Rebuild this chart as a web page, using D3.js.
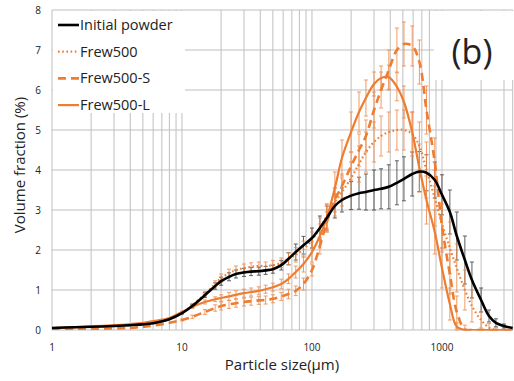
<!DOCTYPE html>
<html lang="en">
<head>
<meta charset="UTF-8">
<title>Particle size distribution</title>
<script src="https://cdn.jsdelivr.net/npm/d3@7"></script>
<style>
    body { margin:0; background:#fff; }
    svg text { font-family:"Open Sans", "Noto Sans", sans-serif; fill:#222; }
    .grid line { stroke:#bfbfbf; stroke-width:1; }
    .tick-label { font-size:10px; }
</style>
</head>
<body>
<div class="app"></div>
<script>
    // particle size bins (µm)
    var sizes = [1, 1.5, 2, 3, 4, 5, 6, 8, 10, 12, 15, 18, 20, 23, 26, 30, 34, 39, 44, 50,
                 58, 66, 75, 86, 100, 115, 130, 150, 170, 200, 230, 260, 300, 340, 390, 450,
                 510, 590, 670, 760, 880, 1000, 1150, 1300, 1500, 1700, 2000, 2300, 2600, 3000, 3500];

    // volume fraction (%) per series
    var initialPowder = [0.05, 0.07, 0.08, 0.10, 0.12, 0.14, 0.17, 0.27, 0.42, 0.60, 0.87, 1.10, 1.22, 1.33, 1.40, 1.44, 1.46, 1.47, 1.49, 1.52,
                         1.62, 1.78, 1.95, 2.12, 2.30, 2.55, 2.80, 3.10, 3.25, 3.36, 3.42, 3.45, 3.50, 3.53, 3.58, 3.68,
                         3.78, 3.90, 3.96, 3.93, 3.75, 3.38, 2.95, 2.35, 1.75, 1.25, 0.75, 0.35, 0.18, 0.10, 0.05];
    var frew500 = [0.05, 0.07, 0.08, 0.10, 0.12, 0.14, 0.17, 0.27, 0.42, 0.62, 0.90, 1.15, 1.30, 1.42, 1.50, 1.55, 1.58, 1.60, 1.60, 1.62,
                   1.68, 1.78, 1.88, 2.02, 2.25, 2.55, 2.85, 3.20, 3.45, 3.80, 4.15, 4.45, 4.70, 4.85, 4.95, 5.00,
                   5.00, 4.90, 4.60, 4.00, 3.30, 2.65, 2.05, 1.55, 1.00, 0.60, 0.25, 0.06, 0.01, 0, 0];
    var frew500S = [0.03, 0.03, 0.03, 0.04, 0.05, 0.08, 0.11, 0.18, 0.25, 0.33, 0.45, 0.55, 0.60, 0.64, 0.67, 0.70, 0.72, 0.74, 0.75, 0.78,
                    0.84, 0.90, 0.98, 1.15, 1.50, 2.10, 2.70, 3.25, 3.60, 4.10, 4.50, 4.85, 5.50, 6.00, 6.50, 7.00,
                    7.15, 7.10, 6.70, 5.50, 4.20, 2.60, 1.40, 0.45, 0.02, 0, 0, 0, 0, 0, 0];
    var frew500L = [0.05, 0.07, 0.09, 0.12, 0.15, 0.18, 0.22, 0.30, 0.45, 0.58, 0.70, 0.77, 0.80, 0.84, 0.88, 0.92, 0.95, 0.98, 1.02, 1.07,
                    1.15, 1.28, 1.45, 1.65, 1.95, 2.35, 2.80, 3.55, 4.30, 4.95, 5.45, 5.80, 6.15, 6.30, 6.32, 6.08,
                    5.70, 4.95, 4.05, 3.25, 2.45, 1.55, 0.65, 0.08, 0, 0, 0, 0, 0, 0, 0];

    // standard deviations (error bars)
    var sdInitial = [0, 0, 0, 0, 0, 0, 0, 0, 0.02, 0.04, 0.06, 0.08, 0.10, 0.10, 0.10, 0.10, 0.10, 0.10, 0.10, 0.10,
                     0.12, 0.15, 0.20, 0.22, 0.25, 0.30, 0.30, 0.30, 0.30, 0.35, 0.40, 0.45, 0.50, 0.50, 0.55, 0.55,
                     0.55, 0.55, 0.50, 0.45, 0.45, 0.50, 0.55, 0.60, 0.60, 0.45, 0.30, 0.15, 0.10, 0.05, 0];
    var sdFrew500 = [0, 0, 0, 0, 0, 0, 0, 0, 0.02, 0.04, 0.06, 0.08, 0.10, 0.10, 0.10, 0.10, 0.10, 0.10, 0.10, 0.12,
                     0.12, 0.15, 0.18, 0.20, 0.20, 0.25, 0.30, 0.35, 0.35, 0.40, 0.45, 0.50, 0.50, 0.50, 0.50, 0.50,
                     0.50, 0.55, 0.60, 0.70, 0.70, 0.70, 0.65, 0.60, 0.50, 0.40, 0.20, 0.10, 0.05, 0, 0];
    var sdFrew500S = [0, 0, 0, 0, 0, 0, 0, 0, 0.02, 0.04, 0.06, 0.08, 0.10, 0.10, 0.10, 0.10, 0.10, 0.10, 0.10, 0.10,
                      0.10, 0.12, 0.12, 0.15, 0.15, 0.20, 0.25, 0.30, 0.30, 0.35, 0.40, 0.40, 0.45, 0.45, 0.50, 0.55,
                      0.55, 0.50, 0.55, 0.60, 0.60, 0.55, 0.50, 0.40, 0.10, 0, 0, 0, 0, 0, 0];
    var sdFrew500L = [0, 0, 0, 0, 0, 0, 0, 0, 0.02, 0.04, 0.05, 0.06, 0.08, 0.10, 0.10, 0.10, 0.10, 0.10, 0.10, 0.10,
                      0.12, 0.12, 0.15, 0.20, 0.25, 0.30, 0.35, 0.40, 0.45, 0.50, 0.50, 0.45, 0.30, 0.30, 0.30, 0.35,
                      0.40, 0.50, 0.60, 0.60, 0.55, 0.50, 0.40, 0.10, 0, 0, 0, 0, 0, 0, 0];

    var seriesNames = ['Initial powder', 'Frew500', 'Frew500-S', 'Frew500-L'];
    var yTicks = [0, 1, 2, 3, 4, 5, 6, 7, 8];
    var xLabelTicks = [1, 10, 100, 1000];

    var width = 514, height = 381,
        margin = {top:10, left:52},
        w = 460.7, h = 320;

    var svg = d3.select('.app').append('svg')
        .attr('width', width)
        .attr('height', height);

    svg.append('clipPath').attr('id', 'plot-clip')
        .append('rect').attr('x', -5).attr('y', -5).attr('width', w + 10).attr('height', h + 5.5);

    var g = svg.append('g').attr('transform', 'translate(' + margin.left + ',' + margin.top + ')');

    var x = d3.scaleLog().domain([1, 3500]).range([0, w]);
    var y = d3.scaleLinear().domain([0, 8]).range([h, 0]);

    // grid
    var grid = g.append('g').attr('class', 'grid');
    grid.selectAll('.vg').data(x.ticks()).enter().append('line')
        .attr('x1', function(d){ return x(d); }).attr('x2', function(d){ return x(d); })
        .attr('y1', 0).attr('y2', h);
    grid.append('line').attr('x1', w).attr('x2', w).attr('y1', 0).attr('y2', h);
    grid.selectAll('.hg').data(yTicks).enter().append('line')
        .attr('x1', 0).attr('x2', w)
        .attr('y1', function(d){ return y(d); }).attr('y2', function(d){ return y(d); });

    // white boxes of legend and panel label
    g.append('rect').attr('x', 1).attr('y', 1).attr('width', 132).attr('height', 102).attr('fill', '#fff');
    g.append('rect').attr('x', 382).attr('y', 1).attr('width', 80).attr('height', 69).attr('fill', '#fff');

    // axis labels
    g.selectAll('.ylab').data(yTicks).enter().append('text')
        .attr('class', 'tick-label')
        .attr('x', -11).attr('y', function(d){ return y(d); })
        .attr('dy', '0.35em').attr('text-anchor', 'end')
        .text(function(d){ return d; });
    g.selectAll('.xlab').data(xLabelTicks).enter().append('text')
        .attr('class', 'tick-label')
        .attr('x', function(d){ return x(d); }).attr('y', h + 21)
        .attr('text-anchor', 'middle')
        .text(function(d){ return d; });

    svg.append('text').attr('x', 282).attr('y', 370)
        .attr('text-anchor', 'middle').style('font-size', '15px')
        .text('Particle size(μm)');
    svg.append('text').attr('transform', 'translate(25,165) rotate(-90)')
        .attr('text-anchor', 'middle').style('font-size', '15px')
        .text('Volume fraction (%)');

    var orange = '#ED7D31';
    var series = [
        {name:seriesNames[0], values:initialPowder, sd:sdInitial, color:'#000', bar:'#444', width:2.6, dash:null},
        {name:seriesNames[1], values:frew500, sd:sdFrew500, color:orange, bar:'#F08A4B', width:2.2, dash:'1.6,2.6'},
        {name:seriesNames[2], values:frew500S, sd:sdFrew500S, color:orange, bar:'#F08A4B', width:2.6, dash:'8,5'},
        {name:seriesNames[3], values:frew500L, sd:sdFrew500L, color:orange, bar:'#F08A4B', width:2.2, dash:null}
    ];

    // error bars
    series.forEach(function(s){
        var pts = sizes.map(function(d, i){ return {x:d, v:s.values[i], e:s.sd[i]}; })
            .filter(function(p){ return p.e > 0; });
        var eb = g.append('g').attr('stroke', s.bar).attr('stroke-width', 1).attr('opacity', 0.85);
        eb.selectAll('line.v').data(pts).enter().append('line')
            .attr('x1', function(p){ return x(p.x); }).attr('x2', function(p){ return x(p.x); })
            .attr('y1', function(p){ return y(p.v + p.e); }).attr('y2', function(p){ return y(Math.max(0, p.v - p.e)); });
        eb.selectAll('line.t').data(pts).enter().append('line')
            .attr('x1', function(p){ return x(p.x) - 2; }).attr('x2', function(p){ return x(p.x) + 2; })
            .attr('y1', function(p){ return y(p.v + p.e); }).attr('y2', function(p){ return y(p.v + p.e); });
        eb.selectAll('line.b').data(pts).enter().append('line')
            .attr('x1', function(p){ return x(p.x) - 2; }).attr('x2', function(p){ return x(p.x) + 2; })
            .attr('y1', function(p){ return y(Math.max(0, p.v - p.e)); }).attr('y2', function(p){ return y(Math.max(0, p.v - p.e)); });
    });

    // smoothed curves (like the spreadsheet's smoothed lines)
    var line = d3.line()
        .x(function(d){ return x(d[0]); })
        .y(function(d){ return y(d[1]); })
        .curve(d3.curveCatmullRom.alpha(0.5));

    var curves = g.append('g').attr('clip-path', 'url(#plot-clip)');
    series.slice().reverse().forEach(function(s){
        curves.append('path')
            .datum(sizes.map(function(d, i){ return [d, s.values[i]]; }))
            .attr('fill', 'none')
            .attr('stroke', s.color)
            .attr('stroke-width', s.width)
            .attr('stroke-dasharray', s.dash)
            .attr('d', line);
    });

    // legend
    var legend = svg.append('g').attr('transform', 'translate(58,25)');
    var item = legend.selectAll('.item').data(series).enter().append('g')
        .attr('transform', function(d, i){ return 'translate(0,' + (i * 26.7) + ')'; });
    item.append('line')
        .attr('x1', 0).attr('x2', 21).attr('y1', 0).attr('y2', 0)
        .attr('stroke', function(d){ return d.color; })
        .attr('stroke-width', function(d){ return d.width; })
        .attr('stroke-dasharray', function(d){ return d.dash; });
    item.append('text')
        .attr('x', 22).attr('dy', '0.35em')
        .style('font-size', '14.5px')
        .text(function(d){ return d.name; });

    // panel label
    svg.append('text').attr('x', 472).attr('y', 52).attr('dy', '0.35em')
        .attr('text-anchor', 'middle').style('font-size', '34px')
        .text('(b)');
</script>
</body>
</html>
